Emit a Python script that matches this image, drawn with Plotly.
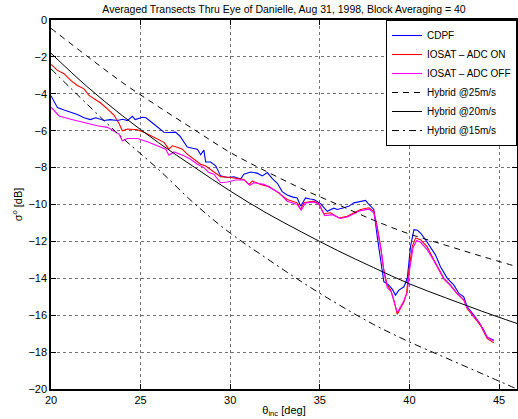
import plotly.graph_objects as go

# ---------------- data ----------------
cdpf_x = [20.0, 20.1, 20.36, 20.73, 21.1, 21.47, 21.84, 22.2, 22.5, 22.96, 23.3, 23.7, 24.0, 24.26,
          24.54, 24.7, 25.1, 25.3, 25.56, 25.9, 26.12, 26.3, 26.6, 26.95, 27.2, 27.42, 27.6, 27.9,
          28.17, 28.35, 28.53, 28.63, 28.9, 29.19, 29.46, 29.84, 30.2, 30.58, 30.76, 31.14, 31.5,
          31.79, 32.07, 32.35, 32.63, 32.9, 33.18, 33.5, 33.74, 33.93, 34.2, 34.45, 34.67, 35.04,
          35.22, 35.41, 35.78, 35.97, 36.34, 36.6, 36.9, 37.2, 37.55, 37.7, 37.83, 38.01, 38.2,
          38.39, 38.57, 38.85, 39.05, 39.22, 39.41, 39.69, 39.88, 40.06, 40.25, 40.45, 40.62, 40.9,
          41.18, 41.45, 41.73, 42.11, 42.48, 42.76, 43.03, 43.22, 43.59, 43.87, 44.15, 44.34, 44.71]
cdpf_y = [-4.1, -4.3, -4.75, -4.88, -4.98, -5.12, -5.3, -5.4, -5.3, -5.45, -5.4, -5.45, -5.38, -5.45,
          -5.22, -5.4, -5.27, -5.3, -5.5, -5.75, -5.9, -6.08, -6.1, -6.08, -6.3, -6.65, -6.88, -6.95,
          -7.0, -7.3, -7.05, -7.7, -7.7, -7.9, -8.45, -8.54, -8.5, -8.62, -8.36, -8.24, -8.3,
          -8.45, -8.27, -8.6, -8.85, -9.3, -9.48, -9.6, -9.65, -10.09, -9.64, -9.7, -9.73, -9.95,
          -10.18, -10.37, -10.2, -10.27, -10.18, -10.1, -9.91, -9.85, -9.78, -9.95, -10.09, -10.27, -11.73,
          -13.0, -14.18, -14.37, -14.6, -14.91, -14.64, -14.46, -14.0, -12.27, -11.36, -11.4, -11.55, -11.91,
          -12.36, -12.73, -13.37, -14.0, -14.37, -14.82, -15.0, -15.55, -16.0, -16.37, -16.82, -17.19, -17.36]

adc_on_x = [20.0, 20.36, 20.73, 21.1, 21.47, 21.84, 22.12, 22.4, 22.77, 23.15, 23.51, 23.79, 23.98,
            24.26, 24.6, 24.82, 25.19, 25.74, 26.3, 26.58, 26.77, 27.05, 27.33, 27.6, 27.97, 28.35,
            28.63, 29.0, 29.28, 29.46, 30.02, 30.39, 30.76, 31.04, 31.23, 31.7, 32.16, 32.63, 33.18,
            33.74, 33.93, 34.11, 34.67, 34.95, 35.22, 35.6, 36.06, 36.53, 36.9, 37.27, 37.74, 38.01,
            38.2, 38.39, 38.57, 38.76, 38.95, 39.13, 39.32, 39.5, 39.69, 39.84, 39.97, 40.16, 40.34,
            40.62, 40.99, 41.36, 41.73, 41.92, 42.29, 42.66, 43.03, 43.22, 43.59, 43.96, 44.34, 44.71]
adc_on_y = [-2.4, -2.73, -2.91, -3.27, -3.55, -3.73, -4.09, -4.27, -4.5, -4.82, -5.15, -5.6, -6.0,
            -5.91, -5.95, -5.95, -6.09, -6.36, -6.63, -7.0, -6.82, -6.9, -7.0, -7.27, -7.55, -7.82,
            -7.91, -8.18, -8.36, -8.49, -8.54, -8.6, -8.64, -8.91, -8.73, -8.91, -9.03, -9.33, -9.73,
            -9.91, -10.27, -9.91, -9.82, -9.95, -10.5, -10.45, -10.73, -10.64, -10.45, -10.27, -10.18, -10.37,
            -11.18, -12.27, -13.55, -14.37, -14.64, -15.18, -15.95, -15.64, -15.28, -14.82, -13.55, -12.27, -11.82,
            -11.91, -12.3, -13.0, -13.64, -14.0, -14.37, -14.82, -15.18, -15.64, -16.09, -16.55, -17.27, -17.5]

adc_off_x = [20.0, 20.45, 21.1, 21.84, 22.59, 23.15, 23.51, 23.79, 23.98, 24.26, 24.82, 25.38, 25.93,
             26.4, 26.58, 26.86, 27.42, 27.79, 28.17, 28.53, 28.81, 29.09, 29.46, 29.84, 30.3, 30.76,
             31.1, 31.32, 31.88, 32.25, 32.72, 33.18, 33.74, 33.96, 34.2, 34.67, 34.95, 35.27, 35.7,
             36.16, 36.53, 36.9, 37.27, 37.74, 38.01, 38.22, 38.42, 38.6, 38.76, 38.98, 39.15, 39.32,
             39.5, 39.69, 39.88, 40.0, 40.2, 40.4, 40.62, 40.99, 41.36, 41.73, 41.92, 42.29, 42.66,
             43.03, 43.22, 43.59, 43.96, 44.34, 44.71]
adc_off_y = [-4.72, -5.2, -5.38, -5.56, -5.73, -5.82, -6.0, -6.18, -6.55, -6.42, -6.42, -6.6, -6.82,
             -7.0, -7.33, -7.15, -7.36, -7.55, -7.82, -8.0, -8.27, -8.36, -8.82, -8.78, -8.67, -8.67,
             -8.96, -8.82, -8.91, -9.09, -9.36, -9.82, -10.0, -10.31, -9.91, -9.87, -10.0, -10.6, -10.55,
             -10.76, -10.68, -10.5, -10.33, -10.25, -10.45, -11.45, -12.5, -13.8, -14.5, -14.72, -15.3, -15.85,
             -15.55, -15.2, -14.75, -13.6, -12.35, -11.95, -12.05, -12.45, -13.05, -13.7, -14.05, -14.4, -14.85,
             -15.15, -15.6, -16.05, -16.5, -17.2, -17.4]

hybrid_x = [20, 22, 24, 26, 28, 30, 32, 34, 36, 38, 40, 42, 44, 46]
hybrid_25 = [-0.45, -1.95, -3.4, -4.7, -5.95, -7.18, -8.2, -9.15, -10.0, -10.85, -11.6, -12.2, -12.8, -13.37]
hybrid_20 = [-1.8, -3.6, -5.2, -6.65, -7.98, -9.27, -10.45, -11.5, -12.5, -13.42, -14.3, -15.05, -15.77, -16.45]
hybrid_15 = [-2.65, -4.55, -6.4, -8.1, -9.95, -11.55, -12.9, -14.2, -15.4, -16.5, -17.45, -18.3, -19.15, -20.0]

x_ticks = [20, 25, 30, 35, 40, 45]
y_ticks = [0, -2, -4, -6, -8, -10, -12, -14, -16, -18, -20]

# ---------------- figure ----------------
FONT = "Liberation Sans, Arial, Helvetica, sans-serif"
fig = go.Figure()
fig.add_trace(go.Scatter(x=cdpf_x, y=cdpf_y, mode="lines", name="CDPF",
                         line=dict(color="#0000ff", width=1.1)))
fig.add_trace(go.Scatter(x=adc_on_x, y=adc_on_y, mode="lines", name="IOSAT – ADC ON",
                         line=dict(color="#ff0000", width=1.1)))
fig.add_trace(go.Scatter(x=adc_off_x, y=adc_off_y, mode="lines", name="IOSAT – ADC OFF",
                         line=dict(color="#ff00ff", width=1.1)))
fig.add_trace(go.Scatter(x=hybrid_x, y=hybrid_25, mode="lines", name="Hybrid @25m/s",
                         line=dict(color="black", width=1, dash="6px,5px", shape="spline")))
fig.add_trace(go.Scatter(x=hybrid_x, y=hybrid_20, mode="lines", name="Hybrid @20m/s",
                         line=dict(color="black", width=1, shape="spline")))
fig.add_trace(go.Scatter(x=hybrid_x, y=hybrid_15, mode="lines", name="Hybrid @15m/s",
                         line=dict(color="black", width=1, dash="7px,4px,2px,4px", shape="spline")))

axis_common = dict(
    showline=True, linecolor="black", linewidth=1.5, mirror="ticks",
    ticks="inside", ticklen=5, tickcolor="black", tickwidth=1,
    showgrid=True, gridcolor="rgba(0,0,0,0.55)", gridwidth=1, griddash="dot",
    zeroline=False, tickfont=dict(size=11, color="black", family=FONT),
)
fig.update_xaxes(range=[20, 46], tickvals=x_ticks, ticktext=[str(v) for v in x_ticks],
                 title=dict(text="θ<sub>inc</sub> [deg]", font=dict(size=11, family=FONT), standoff=1),
                 **axis_common)
fig.update_yaxes(range=[-20, 0], tickvals=y_ticks,
                 ticktext=[("−" + str(-v)) if v < 0 else str(v) for v in y_ticks],
                 title=dict(text="σ<sup>o</sup> [dB]", font=dict(size=11, family=FONT), standoff=4),
                 **axis_common)

fig.update_layout(
    width=518, height=419,
    margin=dict(l=51, r=1, t=20, b=30, autoexpand=False),
    paper_bgcolor="white", plot_bgcolor="white",
    font=dict(family=FONT, size=11, color="black"),
    title=dict(text="Averaged Transects Thru Eye of Danielle, Aug 31, 1998, Block Averaging = 40",
               x=0.5, xref="paper", xanchor="center", y=1, yref="container", yanchor="top", pad=dict(t=6),
               font=dict(size=10.5, family=FONT, color="black")),
    legend=dict(x=1, y=1, xanchor="right", yanchor="top", bgcolor="white", bordercolor="black",
                borderwidth=1, font=dict(size=10, family=FONT), itemwidth=30, tracegroupgap=0),
    showlegend=True,
)

fig.write_html("out.html", config={"displayModeBar": False},
               post_script="document.body.style.margin='0';document.body.style.overflow='hidden';")
